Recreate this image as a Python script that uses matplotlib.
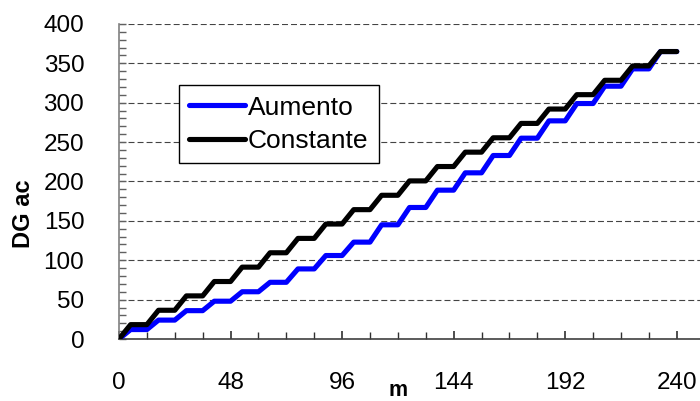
import matplotlib
matplotlib.use("Agg")
import matplotlib.pyplot as plt
from matplotlib.ticker import MultipleLocator

plt.rcParams['font.family'] = ['Liberation Sans', 'DejaVu Sans']
plt.rcParams['lines.scale_dashes'] = False

# Annual plateau levels (value reached after each yearly ramp)
years = list(range(1, 21))
constante_levels = [18.25, 36.5, 54.75, 73.0, 91.25, 109.5, 127.75, 146.0, 164.25, 182.5,
                    200.75, 219.0, 237.25, 255.5, 273.75, 292.0, 310.25, 328.5, 346.75, 365.0]
aumento_levels = [12, 24, 36, 48, 60, 72, 89, 106, 123, 145,
                  167, 189, 211, 233, 255, 277, 299, 321, 343, 365]
ramp_months = 5
x_end = 240

def step_series(levels):
    xs, ys = [0], [0]
    prev = 0
    for k, lv in enumerate(levels):
        start = 12 * k
        xs += [start, start + ramp_months]
        ys += [prev, lv]
        prev = lv
    xs.append(x_end)
    ys.append(prev)
    return xs, ys

fig = plt.figure(figsize=(7.0, 4.01), dpi=100)
ax = fig.add_axes([0.17, 0.1546, 0.83, 0.7856])

xa, ya = step_series(aumento_levels)
xc, yc = step_series(constante_levels)
ax.plot(xa, ya, color='#0000FF', lw=3.7, solid_joinstyle='round', solid_capstyle='round', label='Aumento', zorder=3)
ax.plot(xc, yc, color='#000000', lw=3.7, solid_joinstyle='round', solid_capstyle='round', label='Constante', zorder=4)

ax.set_xlim(0, 250)
ax.set_ylim(0, 400)
ax.xaxis.set_major_locator(MultipleLocator(48))
ax.xaxis.set_minor_locator(MultipleLocator(12))
ax.yaxis.set_major_locator(MultipleLocator(50))
ax.yaxis.set_minor_locator(MultipleLocator(10))

ax.grid(axis='y', which='major', color='#444444', lw=0.8, ls=(0, (4.3, 2.2)))
ax.set_axisbelow(True)

for s in ['top', 'right']:
    ax.spines[s].set_visible(False)
ax.spines['left'].set_color('#808080')
ax.spines['bottom'].set_color('#404040')
ax.spines['left'].set_linewidth(1.2)
ax.spines['bottom'].set_linewidth(1.2)

ax.tick_params(axis='x', which='major', direction='in', length=6, width=1.2, color='#303030', pad=24, labelsize=17.5)
ax.tick_params(axis='x', which='minor', direction='in', length=5, width=1, color='#303030')
ax.tick_params(axis='y', which='major', direction='in', length=5, width=1, color='#606060', pad=25, labelsize=17.5)
ax.tick_params(axis='y', which='minor', direction='in', length=5, width=1, color='#606060')

ax.set_xticks([0, 48, 96, 144, 192, 240])

fig.text(398 / 700, 1 - 391 / 401, 'm', ha='center', va='center', fontsize=15.5, fontweight='bold')
fig.text(24 / 700, 1 - 214 / 401, 'DG ac', ha='center', va='center', rotation=90, fontsize=17, fontweight='bold')

leg = ax.legend(loc='upper left', bbox_to_anchor=(0.103, 0.806), borderaxespad=0,
                fontsize=19, frameon=True, fancybox=False, framealpha=1,
                edgecolor='#000000', handlelength=2.1, handletextpad=0.1,
                labelspacing=0.35, borderpad=0.4)
leg.get_frame().set_linewidth(1.0)

fig.savefig('out.png', dpi=100)
